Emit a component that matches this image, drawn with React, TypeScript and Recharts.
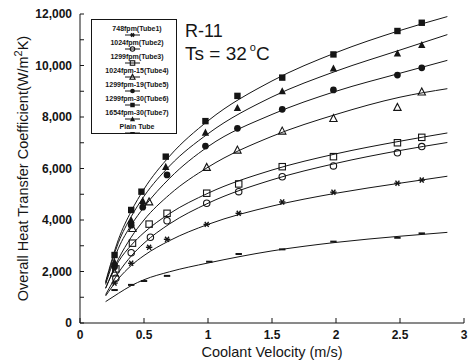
import { ComposedChart, Line, Scatter, XAxis, YAxis, Legend } from 'recharts';

const FONT = '"Liberation Sans", Arial, Helvetica, sans-serif';
const INK = '#151515';

const X_TICKS = [0, 0.5, 1, 1.5, 2, 2.5, 3];
const Y_TICKS = [0, 1000, 2000, 3000, 4000, 5000, 6000, 7000, 8000, 9000, 10000, 11000, 12000];

const LEGEND_LABELS = [
  '748fpm(Tube1)',
  '1024fpm(Tube2)',
  '1299fpm(Tube3)',
  '1024fpm-15(Tube4)',
  '1299fpm-19(Tube5)',
  '1299fpm-30(Tube6)',
  '1654fpm-30(Tube7)',
  'Plain Tube',
];

// measured points: coolant velocity (m/s) vs overall U (W/m2K)
const tube1Vel = [0.27, 0.4, 0.54, 0.68, 0.99, 1.24, 1.58, 1.98, 2.48, 2.67];
const tube1U = [1550, 2320, 2940, 3250, 3830, 4260, 4700, 5080, 5430, 5550];
const tube2Vel = [0.28, 0.4, 0.55, 0.68, 0.99, 1.24, 1.58, 1.98, 2.48, 2.67];
const tube2U = [1740, 2730, 3330, 3970, 4650, 5100, 5680, 6100, 6610, 6850];
const tube3Vel = [0.28, 0.41, 0.54, 0.68, 0.99, 1.24, 1.58, 1.98, 2.48, 2.67];
const tube3U = [2100, 3100, 3840, 4260, 5040, 5400, 6070, 6460, 7000, 7210];
const tube4Vel = [0.27, 0.41, 0.54, 0.99, 1.23, 1.58, 1.98, 2.48, 2.67];
const tube4U = [1950, 3680, 4710, 6050, 6720, 7460, 7950, 8380, 8980];
const tube5Vel = [0.27, 0.4, 0.49, 0.68, 0.98, 1.23, 1.58, 1.98, 2.48, 2.67];
const tube5U = [2180, 3800, 4500, 5750, 6870, 7560, 8300, 9050, 9630, 9910];
const tube6Vel = [0.27, 0.4, 0.48, 0.67, 0.98, 1.23, 1.58, 1.98, 2.48, 2.67];
const tube6U = [2640, 4390, 5100, 6460, 7840, 8820, 9530, 10430, 11340, 11660];
const tube7Vel = [0.27, 0.4, 0.49, 0.67, 0.98, 1.23, 1.58, 1.98, 2.48, 2.67];
const tube7U = [2370, 4000, 4750, 6070, 7400, 8360, 9010, 9890, 10470, 10800];
const plainVel = [0.27, 0.4, 0.5, 0.68, 1.01, 1.24, 1.58, 1.98, 2.48, 2.67];
const plainU = [1280, 1480, 1630, 1830, 2380, 2680, 2860, 3160, 3310, 3480];

// fitted curves
const FIT_VEL = [0.2, 0.3, 0.4, 0.5, 0.7, 1.0, 1.5, 2.0, 2.5, 2.87];
const tube1Fit = [1050, 1720, 2230, 2620, 3200, 3830, 4540, 5040, 5430, 5700];
const tube2Fit = [1100, 1950, 2600, 3100, 3850, 4650, 5560, 6200, 6700, 7010];
const tube3Fit = [1350, 2380, 3020, 3510, 4250, 5040, 5940, 6570, 7060, 7380];
const tube4Fit = [1350, 2480, 3330, 4000, 4990, 6050, 7250, 8100, 8770, 9100];
const tube5Fit = [1500, 2900, 3800, 4500, 5620, 6850, 8100, 9000, 9700, 10200];
const tube6Fit = [1600, 3240, 4340, 5200, 6480, 7850, 9400, 10500, 11360, 11900];
const tube7Fit = [1550, 3120, 4130, 4920, 6100, 7350, 8780, 9780, 10600, 11200];
const plainFit = [830, 1150, 1450, 1680, 1990, 2330, 2800, 3130, 3370, 3520];

const toPoints = (xs: number[], ys: number[]) => xs.map((x, i) => ({ x, y: ys[i] }));

type MarkerKind = 'star' | 'ocirc' | 'osq' | 'otri' | 'fcirc' | 'fsq' | 'ftri' | 'dash';

const SERIES: { name: string; marker: MarkerKind; pts: { x: number; y: number }[]; fit: { x: number; y: number }[] }[] = [
  { name: LEGEND_LABELS[0], marker: 'star', pts: toPoints(tube1Vel, tube1U), fit: toPoints(FIT_VEL, tube1Fit) },
  { name: LEGEND_LABELS[1], marker: 'ocirc', pts: toPoints(tube2Vel, tube2U), fit: toPoints(FIT_VEL, tube2Fit) },
  { name: LEGEND_LABELS[2], marker: 'osq', pts: toPoints(tube3Vel, tube3U), fit: toPoints(FIT_VEL, tube3Fit) },
  { name: LEGEND_LABELS[3], marker: 'otri', pts: toPoints(tube4Vel, tube4U), fit: toPoints(FIT_VEL, tube4Fit) },
  { name: LEGEND_LABELS[4], marker: 'fcirc', pts: toPoints(tube5Vel, tube5U), fit: toPoints(FIT_VEL, tube5Fit) },
  { name: LEGEND_LABELS[5], marker: 'fsq', pts: toPoints(tube6Vel, tube6U), fit: toPoints(FIT_VEL, tube6Fit) },
  { name: LEGEND_LABELS[6], marker: 'ftri', pts: toPoints(tube7Vel, tube7U), fit: toPoints(FIT_VEL, tube7Fit) },
  { name: LEGEND_LABELS[7], marker: 'dash', pts: toPoints(plainVel, plainU), fit: toPoints(FIT_VEL, plainFit) },
];

function Marker({ kind, cx, cy, s = 1 }: { kind: MarkerKind; cx: number; cy: number; s?: number }) {
  const h = 3.2 * s;
  switch (kind) {
    case 'fsq':
      return <rect x={cx - h} y={cy - h} width={2 * h} height={2 * h} fill={INK} />;
    case 'osq':
      return <rect x={cx - h} y={cy - h} width={2 * h} height={2 * h} fill="none" stroke={INK} strokeWidth={1.1} />;
    case 'ftri':
      return <polygon points={`${cx},${cy - h * 1.2} ${cx - h * 1.15},${cy + h} ${cx + h * 1.15},${cy + h}`} fill={INK} />;
    case 'otri':
      return (
        <polygon
          points={`${cx},${cy - h * 1.2} ${cx - h * 1.15},${cy + h} ${cx + h * 1.15},${cy + h}`}
          fill="none"
          stroke={INK}
          strokeWidth={1.1}
        />
      );
    case 'fcirc':
      return <circle cx={cx} cy={cy} r={h * 1.05} fill={INK} />;
    case 'ocirc':
      return <circle cx={cx} cy={cy} r={h} fill="none" stroke={INK} strokeWidth={1.1} />;
    case 'star':
      return (
        <g stroke={INK} strokeWidth={1.4}>
          <line x1={cx - h} y1={cy} x2={cx + h} y2={cy} />
          <line x1={cx - h * 0.6} y1={cy - h * 0.8} x2={cx + h * 0.6} y2={cy + h * 0.8} />
          <line x1={cx + h * 0.6} y1={cy - h * 0.8} x2={cx - h * 0.6} y2={cy + h * 0.8} />
        </g>
      );
    default:
      return <line x1={cx - h} y1={cy} x2={cx + h} y2={cy} stroke={INK} strokeWidth={2} />;
  }
}

const tickStyle = { fill: INK, fontSize: 12, fontWeight: 700, fontFamily: FONT };

const renderLegend = () => (
  <div style={{ width: 86, height: 115, border: `1px solid ${INK}`, background: '#fff', boxSizing: 'border-box' }}>
    <svg width={84} height={113} style={{ display: 'block' }}>
      {SERIES.map((s, i) => (
        <g key={s.name}>
          <text x={45} y={11 + 14 * i} textAnchor="middle" fontSize={7} fontWeight={700} fontFamily={FONT} fill={INK}>
            {s.name}
          </text>
          <line x1={33} x2={48} y1={15 + 14 * i} y2={15 + 14 * i} stroke={INK} strokeWidth={1} />
          <Marker kind={s.marker} cx={40.5} cy={15 + 14 * i} s={0.7} />
        </g>
      ))}
    </svg>
  </div>
);

const xTitle = (props: any) => {
  const vb = props.viewBox;
  return (
    <text x={vb.x + vb.width / 2} y={vb.y + 34} textAnchor="middle" fontSize={14.5} fontFamily={FONT} fill={INK}>
      Coolant Velocity (m/s)
    </text>
  );
};

const yTitle = (props: any) => {
  const vb = props.viewBox;
  const cx = vb.x + 28;
  const cy = vb.y + vb.height / 2;
  return (
    <text x={cx} y={cy} transform={`rotate(-90 ${cx} ${cy})`} textAnchor="middle" fontSize={14.5} fontFamily={FONT} fill={INK}>
      Overall Heat Transfer Coefficient(W/m
      <tspan dy={-6} fontSize={11}>2</tspan>
      <tspan dy={6}>K)</tspan>
    </text>
  );
};

export default function App() {
  return (
    <div style={{ position: 'absolute', left: 0, top: 0, width: 468, height: 363, background: '#fff' }}>
      <ComposedChart width={468} height={363} margin={{ top: 14, right: 4, bottom: 0, left: 0 }}>
        <XAxis
          dataKey="x"
          type="number"
          domain={[0, 3]}
          ticks={X_TICKS}
          height={40}
          tickSize={-5}
          tickMargin={12}
          tick={tickStyle}
          stroke={INK}
          tickFormatter={(v) => String(v)}
          allowDataOverflow
          label={xTitle}
        />
        <XAxis xAxisId="top" orientation="top" type="number" domain={[0, 3]} height={0} tick={false} tickLine={false} stroke={INK} />
        <YAxis
          dataKey="y"
          type="number"
          domain={[0, 12000]}
          ticks={Y_TICKS}
          width={80}
          tickSize={-4}
          tickMargin={12}
          tick={tickStyle}
          stroke={INK}
          interval={0}
          tickFormatter={(v: number) => (v % 2000 === 0 ? v.toLocaleString('en-US') : '')}
          allowDataOverflow
          label={yTitle}
        />
        <YAxis yAxisId="right" orientation="right" domain={[0, 12000]} width={0} tick={false} tickLine={false} stroke={INK} />
        <Legend layout="vertical" align="center" verticalAlign="middle" content={renderLegend} wrapperStyle={{ left: 91, top: 19, width: 86, height: 115 }} />
        {SERIES.map((s) => (
          <Line
            key={`fit-${s.name}`}
            data={s.fit}
            dataKey="y"
            type="monotone"
            stroke={INK}
            strokeWidth={1}
            dot={false}
            activeDot={false}
            legendType="none"
            isAnimationActive={false}
          />
        ))}
        {SERIES.map((s) => (
          <Scatter
            key={`pts-${s.name}`}
            name={s.name}
            data={s.pts}
            dataKey="y"
            isAnimationActive={false}
            shape={(p: any) => <Marker kind={s.marker} cx={p.cx} cy={p.cy} />}
          />
        ))}
      </ComposedChart>
      <svg width={468} height={363} style={{ position: 'absolute', left: 0, top: 0, pointerEvents: 'none' }}>
        <text x={185} y={37} fontSize={18} fontFamily={FONT} fill={INK}>
          R-11
        </text>
        <text x={185} y={60} fontSize={19} fontFamily={FONT} fill={INK}>
          Ts = 32 
          <tspan dx={3} dy={-9} fontSize={11}>o</tspan>
          <tspan dy={9}>C</tspan>
        </text>
      </svg>
    </div>
  );
}
